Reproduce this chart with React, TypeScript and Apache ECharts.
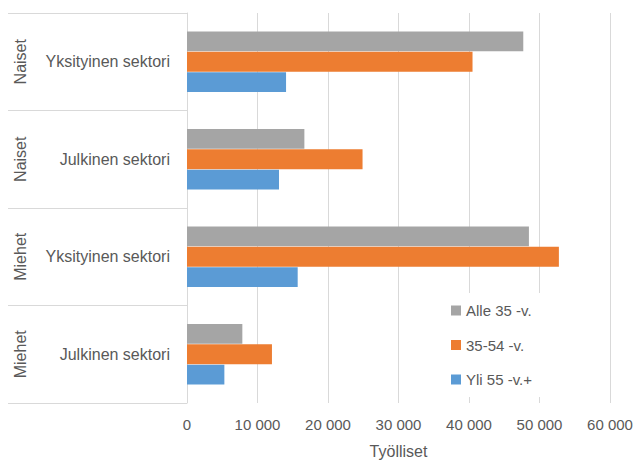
import React, { useEffect, useRef } from "react";
import * as echarts from "echarts";

const groups = ["Naiset", "Naiset", "Miehet", "Miehet"];
const sectors = ["Yksityinen sektori", "Julkinen sektori", "Yksityinen sektori", "Julkinen sektori"];
const seriesNames = ["Alle 35 -v.", "35-54 -v.", "Yli 55 -v.+"];
const alle35 = [47700, 16650, 48500, 7850];
const mid3554 = [40500, 24900, 52750, 12050];
const yli55 = [14050, 13050, 15700, 5300];
const xMin = 0;
const xMax = 60000;
const xStep = 10000;
const axisTitle = "Työlliset";

const colors = ["#A5A5A5", "#ED7D31", "#5B9BD5"];
const FONT = "'Liberation Sans', Arial, sans-serif";
const TXT = "#595959";
const GRID = "#D9D9D9";

const fmt = (v: number) => String(v).replace(/\B(?=(\d{3})+(?!\d))/g, " ");

export default function App() {
  const ref = useRef<HTMLDivElement>(null);
  useEffect(() => {
    if (!ref.current) return;
    document.body.style.margin = "0";
    const chart = echarts.init(ref.current, undefined, { renderer: "svg", width: 636, height: 464 });
    const values = [alle35, mid3554, yli55];
    chart.setOption({
      animation: false,
      textStyle: { fontFamily: FONT },
      grid: { left: 187, right: 26, top: 13, bottom: 57 },
      legend: {
        data: seriesNames,
        orient: "vertical",
        left: 446,
        top: 293,
        padding: [10, 14, 10, 5],
        backgroundColor: "#ffffff",
        itemWidth: 10,
        itemHeight: 10,
        itemGap: 19.5,
        icon: "rect",
        selectedMode: false,
        textStyle: { fontSize: 15, color: TXT, fontFamily: FONT },
        z: 10,
      },
      xAxis: {
        type: "value",
        min: xMin,
        max: xMax,
        interval: xStep,
        axisLine: { show: false },
        axisTick: { show: false },
        splitLine: { show: true, lineStyle: { color: GRID, width: 1 } },
        axisLabel: {
          color: TXT,
          fontSize: 15,
          fontFamily: FONT,
          margin: 14,
          formatter: (v: number) => fmt(v),
        },
        name: axisTitle,
        nameLocation: "middle",
        nameGap: 40,
        nameTextStyle: { color: TXT, fontSize: 16, fontFamily: FONT },
      },
      yAxis: [
        {
          type: "category",
          data: sectors,
          inverse: true,
          axisLine: { show: true, lineStyle: { color: GRID, width: 1 } },
          axisTick: { show: true, length: 179, lineStyle: { color: GRID, width: 1 } },
          axisLabel: { color: TXT, fontSize: 16, fontFamily: FONT, margin: 17 },
        },
        {
          type: "category",
          data: groups,
          inverse: true,
          position: "left",
          axisLine: { show: false },
          axisTick: { show: false },
          splitLine: { show: false },
          axisLabel: { color: TXT, fontSize: 16, fontFamily: FONT, rotate: 90, margin: 159 },
        },
      ],
      series: seriesNames.map((name, i) => ({
        name,
        type: "bar",
        yAxisIndex: 0,
        data: values[i],
        barGap: "3%",
        barCategoryGap: "38%",
        itemStyle: { color: colors[i] },
      })),
    });
    return () => chart.dispose();
  }, []);
  return (
    <div
      ref={ref}
      style={{ position: "fixed", left: 0, top: 0, width: 636, height: 464, background: "#fff" }}
    />
  );
}
